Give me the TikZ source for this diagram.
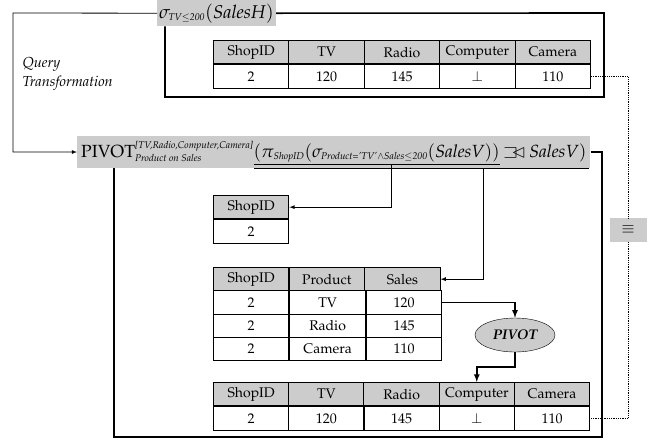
\documentclass[tikz,border=0pt]{standalone}
\usepackage[T1]{fontenc}
\usepackage{mathpazo}
\usepackage{amsmath,amssymb}
\usetikzlibrary{shapes.geometric}
\tikzset{cell/.style={draw,line width=1pt,minimum width=75.4pt,minimum height=23.3pt,inner sep=0pt,anchor=north west,font=\fontsize{14}{16}\selectfont}}
\tikzset{hd/.style={cell,fill=gray!40}}
\tikzset{expr/.style={fill=gray!40,inner sep=2pt,font=\fontsize{17.6}{20}\selectfont}}
\tikzset{frame/.style={line width=1.6pt}}
\tikzset{flow/.style={->,line width=1.6pt}}
\tikzset{link/.style={->,line width=0.8pt}}
\tikzset{eqv/.style={densely dotted,line width=0.8pt}}
\newcommand{\ojoin}{\mathbin{\sqsupset\mkern-11mu\lhd}}
\newcommand{\sub}[1]{\text{\fontsize{9.8}{10}\selectfont\itshape #1}}

\begin{document}
\begin{tikzpicture}[x=1pt,y=-1pt,>=latex]
\useasboundingbox (0,0) rectangle (653,440);
% upper query and its result
\node[expr,minimum height=26pt,anchor=north west,font=\fontsize{18.5}{20}\selectfont] (sel) at (157,0) {$\sigma_{\sub{TV$\le$200}}(\mathit{SalesH})$};
\draw[frame] (sel.east) -- (604,13) -- (604,97) -- (165,97) -- (165,0 |- sel.south);
\foreach \txt [count=\i] in {ShopID,TV,Radio,Computer,Camera}
  \node[hd] (th\i) at ({213+75.4*(\i-1)},40) {\txt};
\foreach \txt [count=\i] in {2,120,145,{$\perp$},110}
  \node[cell] (td\i) at (th\i.south west) {\txt};
\node[align=left,anchor=west,font=\itshape\fontsize{14.5}{19}\selectfont] (qt) at (19,74) {Query\\Transformation};
% transformed query
\node[expr,minimum height=32pt,anchor=west,inner xsep=4pt] (piv) at (77,152) {$\mathrm{PIVOT}^{\sub{[TV,Radio,Computer,Camera]}}_{\sub{Product on Sales}}(\pi_{\sub{ShopID}}(\sigma_{\sub{Product='TV'$\wedge$Sales$\le$200}}(\mathit{SalesV}))\ojoin\mathit{SalesV})$};
\draw[link] (sel.west) -- (13,13) |- (piv.west);
\draw[frame] (piv.east) -- (602,152) -- (602,437) -- (114,437) -- (114,0 |- piv.south);
\draw[line width=0.8pt] (254,164.5) -- (500,164.5);
\draw[line width=1.2pt] (254,168.5) -- (589,168.5);
\coordinate (u1) at (391,164.5);
\coordinate (u2) at (483,168.5);
% intermediate results
\node[hd] (sh) at (213,195) {ShopID};
\node[cell] (sd) at (sh.south west) {2};
\foreach \txt [count=\i] in {ShopID,Product,Sales}
  \node[hd] (sa\i) at ({213+75.6*(\i-1)},267) {\txt};
\foreach \prd/\val [count=\k] in {TV/120,Radio/145,Camera/110} {
  \node[cell] (sr\k c1) at ({213},{267+23.3*\k}) {2};
  \node[cell] (sr\k c2) at (sr\k c1.north east) {\prd};
  \node[cell] (sr\k c3) at (sr\k c2.north east) {\val};
}
\draw[link] (u1) |- (sh.east);
\draw[link] (u2) |- (sa3.east);
\node[ellipse,draw,fill=gray!40,minimum width=80pt,minimum height=34pt,inner sep=0pt,font=\bfseries\itshape\fontsize{14}{16}\selectfont] (pv) at (515,335) {PIVOT};
\draw[flow] (sr1c3.east) -| (pv.north);
\foreach \txt [count=\i] in {ShopID,TV,Radio,Computer,Camera}
  \node[hd] (bh\i) at ({213+75.2*(\i-1)},382) {\txt};
\foreach \txt [count=\i] in {2,120,145,{$\perp$},110}
  \node[cell] (bd\i) at (bh\i.south west) {\txt};
\draw[flow] (pv.south) -- ++(0,15) -| (bh4.north);
% equivalence
\node[fill=gray!40,minimum width=37pt,minimum height=24pt,inner sep=0pt,font=\fontsize{16}{18}\selectfont] (eq) at (628,230) {$\equiv$};
\draw[eqv] (td5.east) -| (eq.north);
\draw[eqv] (eq.south) |- (bd5.east);
\end{tikzpicture}
\end{document}
